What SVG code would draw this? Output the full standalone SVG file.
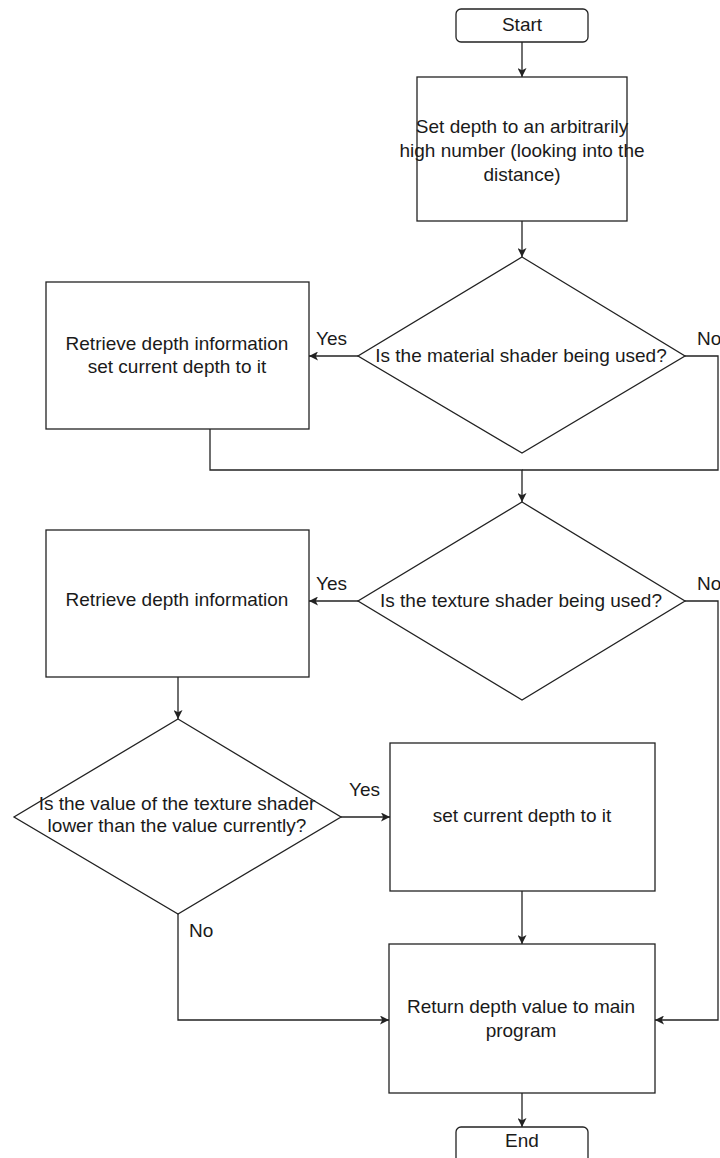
<svg xmlns="http://www.w3.org/2000/svg" width="720" height="1158" viewBox="0 0 720 1158">
  <style>
    .shape { fill: #ffffff; stroke: #222222; stroke-width: 1.3; }
    .edge { fill: none; stroke: #222222; stroke-width: 1.3; }
    text { font-family: "Liberation Sans", Arial, Helvetica, sans-serif; font-size: 19px; fill: #1a1a1a; }
    .c { text-anchor: middle; }
  </style>
  <defs>
    <marker id="arrow" viewBox="0 0 10 10" refX="10" refY="5" markerWidth="9" markerHeight="9" markerUnits="userSpaceOnUse" orient="auto">
      <path d="M0,0 L10,5 L0,10 L2.5,5 Z" fill="#222222"/>
    </marker>
  </defs>
  <rect width="720" height="1158" fill="#ffffff"/>

  <!-- connectors -->
  <g id="connectors">
    <path class="edge" d="M522,42 V77" marker-end="url(#arrow)"/>
    <path class="edge" d="M522,221 V257" marker-end="url(#arrow)"/>
    <path class="edge" d="M358,356 H309" marker-end="url(#arrow)"/>
    <path class="edge" d="M685,356 H718 V470 H522"/>
    <path class="edge" d="M210,429 V470 H522 V502" marker-end="url(#arrow)"/>
    <path class="edge" d="M358,601 H309" marker-end="url(#arrow)"/>
    <path class="edge" d="M685,601 H718 V1020 H655" marker-end="url(#arrow)"/>
    <path class="edge" d="M178,677 V719" marker-end="url(#arrow)"/>
    <path class="edge" d="M341,817 H390" marker-end="url(#arrow)"/>
    <path class="edge" d="M178,914 V1020 H389" marker-end="url(#arrow)"/>
    <path class="edge" d="M522,891 V944" marker-end="url(#arrow)"/>
    <path class="edge" d="M522,1093 V1127" marker-end="url(#arrow)"/>
    <text x="316" y="345">Yes</text>
    <text x="697" y="345">No</text>
    <text x="316" y="590">Yes</text>
    <text x="697" y="590">No</text>
    <text x="349" y="796">Yes</text>
    <text x="189" y="937">No</text>
  </g>

  <g id="start">
    <rect class="shape" x="456" y="9" width="132" height="33" rx="5"/>
    <text class="c" x="522" y="31">Start</text>
  </g>

  <g id="set-depth">
    <rect class="shape" x="417" y="77" width="210" height="144"/>
    <text class="c" x="522" y="133">Set depth to an arbitrarily</text>
    <text class="c" x="522" y="157">high number (looking into the</text>
    <text class="c" x="522" y="181">distance)</text>
  </g>

  <g id="material-check">
    <polygon class="shape" points="522,257 685,356 522,453 358,356"/>
    <text class="c" x="521" y="362">Is the material shader being used?</text>
  </g>

  <g id="material-depth">
    <rect class="shape" x="46" y="282" width="263" height="147"/>
    <text class="c" x="177" y="350">Retrieve depth information</text>
    <text class="c" x="177" y="373">set current depth to it</text>
  </g>

  <g id="texture-check">
    <polygon class="shape" points="522,502 685,601 522,700 358,601"/>
    <text class="c" x="521" y="607">Is the texture shader being used?</text>
  </g>

  <g id="texture-depth">
    <rect class="shape" x="46" y="530" width="263" height="147"/>
    <text class="c" x="177" y="606">Retrieve depth information</text>
  </g>

  <g id="compare-check">
    <polygon class="shape" points="178,719 341,817 178,914 14,817"/>
    <text class="c" x="177" y="810">Is the value of the texture shader</text>
    <text class="c" x="177" y="832">lower than the value currently?</text>
  </g>

  <g id="set-current">
    <rect class="shape" x="390" y="743" width="265" height="148"/>
    <text class="c" x="522" y="822">set current depth to it</text>
  </g>

  <g id="return-depth">
    <rect class="shape" x="389" y="944" width="266" height="149"/>
    <text class="c" x="521" y="1013">Return depth value to main</text>
    <text class="c" x="521" y="1037">program</text>
  </g>

  <g id="end">
    <rect class="shape" x="456" y="1127" width="132" height="40" rx="5"/>
    <text class="c" x="522" y="1147">End</text>
  </g>
</svg>
